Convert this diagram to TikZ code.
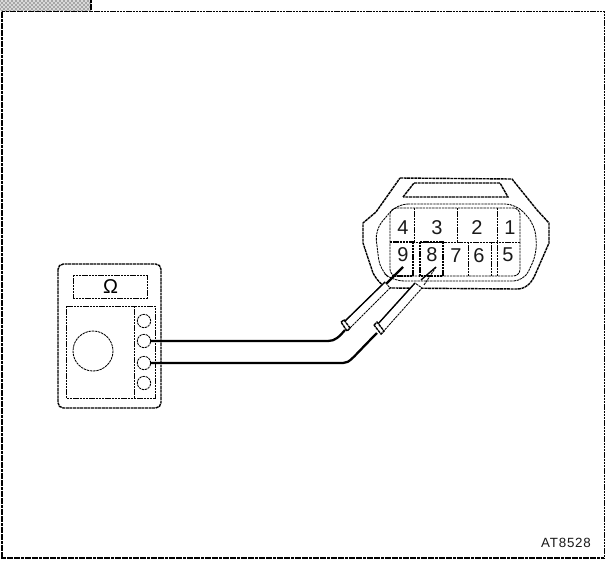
\documentclass[tikz,border=0pt]{standalone}
\usepackage{fontspec}
\setmainfont{Liberation Sans}
\usetikzlibrary{patterns}
\tikzset{
 thin dash/.style={draw=black,line width=0.65pt,dash pattern=on 1.8pt off 0.6pt},
 thick dash/.style={draw=black,line width=1.05pt,dash pattern=on 2.2pt off 0.5pt},
 pin label/.style={font=\fontsize{15}{15}\selectfont,inner sep=0pt,text=black!90},
 lead/.style={draw=black,line width=1.7pt,line join=round},
 probe/.style={thin dash,fill=white},
 jack/.style={circle,thin dash,minimum size=10pt,inner sep=0pt},
}
\begin{document}
\begin{tikzpicture}[x=0.75pt,y=-0.75pt]
\useasboundingbox (0,0) rectangle (605,561);
\fill[white] (0,0) rectangle (605,561);
% frame
\fill[black!15] (0,0) rectangle (91,11);
\fill[pattern=crosshatch dots,pattern color=black] (0,0) rectangle (91,11);
\draw[thick dash] (91,0) -- (91,11.5) -- (2,11.5) -- (2,558) -- (604,558);
\draw[thin dash] (91,11.5) -- (604,11.5) -- (604,558);
% meter
\draw[thick dash,rounded corners=4pt] (58,264) rectangle (161,408);
\draw[thin dash] (73,275) rectangle (147,298);
\node[inner sep=0pt,font=\fontsize{15}{15}\selectfont] (ohm) at (110.5,287) {Ω};
\draw[thin dash] (66,306) rectangle (155,398);
\draw[thin dash] (134,306) -- (134,398);
\draw[thin dash] (93,351) circle (20);
\node[jack] (j1) at (144,321) {};
\node[jack] (j2) at (144,341) {};
\node[jack] (j3) at (144,363) {};
\node[jack] (j4) at (144,383) {};
% connector body
\draw[thick dash] (400,178) -- (512,179) -- (537,210) -- (549,223) -- (549,243) -- (535,275)
  .. controls (531,284) and (525,289) .. (517,289) -- (392,288)
  .. controls (384,288) and (378,282) .. (373,273) -- (363,243) -- (363,223) -- (376,212) -- cycle;
\draw[thick dash] (403,197) -- (414,183) -- (500,183) -- (508,197) -- cycle;
\draw[thin dash,rounded corners=8pt] (397,204) -- (516,204) -- (535,225) -- (537,253) -- (524,281) -- (393,281) -- (380,270) -- (375,230) -- cycle;
\draw[thin dash,rounded corners=5pt] (390,208) rectangle (520,276);
\draw[thin dash] (390,242) -- (520,242);
\draw[thin dash] (414,208) -- (414,242);
\draw[thin dash] (457,208) -- (457,242);
\draw[thin dash] (497,208) -- (497,242);
\draw[thin dash] (468,242) -- (468,276);
\draw[thin dash] (491,242) -- (491,276);
\draw[thin dash] (497,242) -- (497,276);
\draw[thin dash,line width=0.85pt] (390,242) -- (413,242) -- (413,276) -- (392,276);
\draw[thin dash,line width=0.85pt] (420,242) -- (443,242) -- (443,276) -- (420,276) -- cycle;
\node[pin label] (p4) at (403,228) {4};
\node[pin label] (p3) at (437,228) {3};
\node[pin label] (p2) at (477,228) {2};
\node[pin label] (p1) at (510,228) {1};
\node[pin label] (p9) at (403,255) {9};
\node[pin label] (p8) at (432,255) {8};
\node[pin label] (p7) at (456,256) {7};
\node[pin label] (p6) at (479,256) {6};
\node[pin label] (p5) at (508,255) {5};
% probes
\coordinate (tip9) at (403,267);
\coordinate (tip8) at (436,267);
\draw[draw=black,line width=1.7pt] (tip9) -- (386,284);
\draw[thin dash] (tip8) -- (424,285);
\draw[draw=black,line width=1pt] (tip8) -- (421,280);
\draw[probe] (385,282) -- (343,323) -- (348,330) -- (390,288) -- cycle;
\draw[draw=black,line width=1pt] (385,282) -- (343,323);
\draw[probe] (415,283) -- (377,325) -- (382,333) -- (422,288) -- cycle;
\draw[draw=black,line width=1pt] (415,283) -- (377,325);
\draw[thick dash,fill=white] (341,322) -- (344,320) -- (350,328) -- (347,331) -- cycle;
\draw[thick dash,fill=white] (374,325) -- (377,322) -- (384,331) -- (381,334) -- cycle;
% leads
\coordinate (end9) at (345,330);
\coordinate (end8) at (377,333);
\draw[lead] (j2.center) ++(6,0) -- (328,341) .. controls (335,341) and (339,337) .. (end9);
\draw[lead] (j3.center) ++(6,0) -- (343,363) .. controls (350,363) and (352,358) .. (end8);
\node[font=\fontsize{10}{10}\selectfont\addfontfeature{LetterSpace=6},inner sep=0pt,text=black!90] (code) at (566,543) {AT8528};
\end{tikzpicture}
\end{document}
